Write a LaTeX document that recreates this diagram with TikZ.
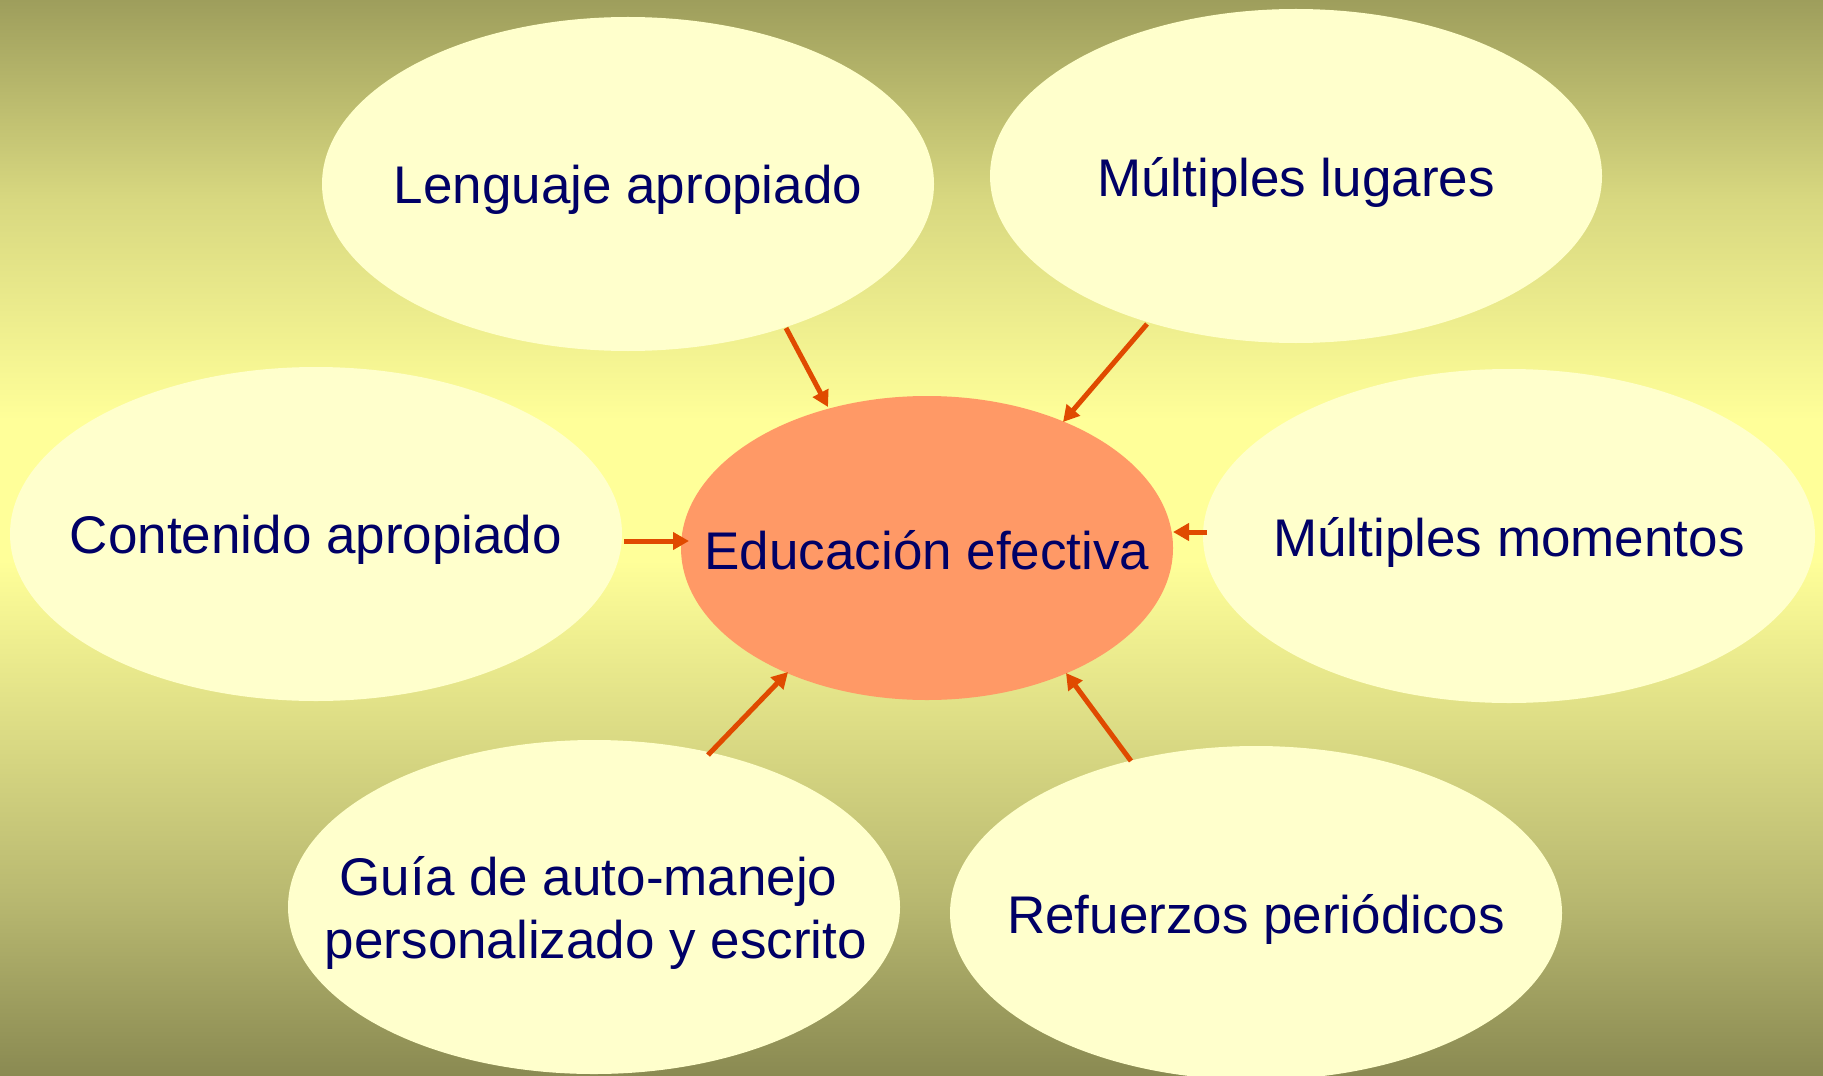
\documentclass[tikz,border=0pt]{standalone}
\usepackage{fontspec}
\setmainfont{Liberation Sans}
\usetikzlibrary{arrows.meta,shapes.geometric}
\definecolor{bgtop}{HTML}{9E9E5C}
\definecolor{bgupper}{HTML}{D8D880}
\definecolor{bgmid}{HTML}{FFFF99}
\definecolor{bglower}{HTML}{B8B870}
\definecolor{bgbot}{HTML}{8A8A52}
\definecolor{bubble}{HTML}{FFFFCC}
\definecolor{core}{HTML}{FF9966}
\definecolor{txt}{HTML}{000066}
\definecolor{arr}{HTML}{E04A00}
\tikzset{
  bubble/.style={ellipse, fill=bubble, minimum width=306pt, minimum height=167pt, inner sep=0pt},
  corebubble/.style={ellipse, fill=core, minimum width=246pt, minimum height=152pt, inner sep=0pt},
  label text/.style={text=txt, font=\fontsize{26.5pt}{31.5pt}\selectfont, align=center, inner sep=0pt},
  link/.style={draw=arr, line width=2.5pt, -{Triangle[length=8pt,width=8.5pt]}}
}
\begin{document}
\begin{tikzpicture}[x=0.5pt,y=-0.5pt]
\useasboundingbox (0,0) rectangle (1823,1075);
\shade[top color=bgtop, bottom color=bgupper] (0,0) rectangle (1823,200);
\shade[top color=bgupper, bottom color=bgmid] (0,200) rectangle (1823,420);
\fill[bgmid] (0,420) rectangle (1823,560);
\shade[top color=bgmid, bottom color=bglower] (0,560) rectangle (1823,900);
\shade[top color=bglower, bottom color=bgbot] (0,900) rectangle (1823,1075);

\node[bubble] (leng) at (628,184) {};
\node[bubble] (lug) at (1296,176) {};
\node[bubble] (cont) at (316,534) {};
\node[bubble] (mom) at (1509,536) {};
\node[bubble] (guia) at (594,907) {};
\node[bubble] (ref) at (1256,913) {};
\node[corebubble] (edu) at (927,548) {};

\node[label text] (lengt) at ([yshift=-3pt]leng.center) {Lenguaje apropiado};
\node[label text] (lugt) at ([yshift=-3pt]lug.center) {Múltiples lugares};
\node[label text] (contt) at ([yshift=-3pt]cont.center) {Contenido apropiado};
\node[label text] (momt) at ([yshift=-3pt]mom.center) {Múltiples momentos};
\node[label text] (guiat) at ([xshift=1pt,yshift=-3pt]guia.center) {Guía de auto-manejo\hspace*{0.28em}\\personalizado y escrito};
\node[label text] (reft) at ([yshift=-3pt]ref.center) {Refuerzos periódicos};
\node[label text] (edut) at ([yshift=-1pt]edu.center) {Educación efectiva};

\coordinate (a1s) at (786,328); \coordinate (a1e) at (828,407);
\coordinate (a2s) at (1147,324); \coordinate (a2e) at (1063,422);
\coordinate (a3s) at (624,541); \coordinate (a3e) at (689,541);
\coordinate (a4s) at (1207,532); \coordinate (a4e) at (1173,532);
\coordinate (a5s) at (708,755); \coordinate (a5e) at (788,672);
\coordinate (a6s) at (1131,761); \coordinate (a6e) at (1066,673);

\draw[link] (a1s) -- (a1e);
\draw[link] (a2s) -- (a2e);
\draw[link] (a3s) -- (a3e);
\draw[link] (a4s) -- (a4e);
\draw[link] (a5s) -- (a5e);
\draw[link] (a6s) -- (a6e);
\end{tikzpicture}
\end{document}
